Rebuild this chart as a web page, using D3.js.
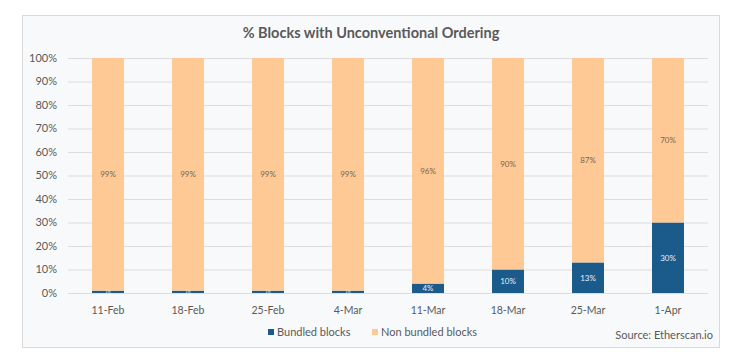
<!DOCTYPE html>
<html><head><meta charset="utf-8">
<script src="https://cdn.jsdelivr.net/npm/d3@7"></script>
<style>body{margin:0;background:#fff;}svg{display:block;font-family:Lato,"Open Sans",sans-serif;}</style>
</head><body><svg id="c" width="750" height="364"></svg>
<script>
const categories = ["11-Feb","18-Feb","25-Feb","4-Mar","11-Mar","18-Mar","25-Mar","1-Apr"];
const bundled = [1,1,1,1,4,10,13,30];
const nonBundled = [99,99,99,99,96,90,87,70];
const yTicks = [0,10,20,30,40,50,60,70,80,90,100];
const seriesNames = ["Bundled blocks","Non bundled blocks"];
const colors = ["#1b5b8c","#fec994"];

const svg = d3.select("#c");
svg.append("rect").attr("x",22.5).attr("y",15.5).attr("width",697).attr("height",332)
  .attr("fill","#f8f9fb").attr("stroke","#d9d9d9");

const x = d3.scaleBand().domain(categories).range([68,708]).paddingInner(0.6).paddingOuter(0.3);
const y = d3.scaleLinear().domain([0,100]).range([293,58]);

svg.append("g").selectAll("line").data(yTicks).join("line")
  .attr("x1",68).attr("x2",708).attr("y1",d=>y(d)+0.5).attr("y2",d=>y(d)+0.5)
  .attr("stroke","#dcdcdc").attr("stroke-width",1);

svg.append("g").selectAll("text").data(yTicks).join("text")
  .attr("x",57).attr("y",d=>y(d)).attr("dy","0.35em").attr("text-anchor","end")
  .attr("font-size",11).attr("fill","#595959").text(d=>d+"%");

const stack = categories.map((c,i)=>({c, b:bundled[i], n:nonBundled[i]}));
const g = svg.append("g");
g.selectAll("rect.b").data(stack).join("rect").attr("class","b")
  .attr("x",d=>x(d.c)).attr("width",x.bandwidth())
  .attr("y",d=>y(d.b)).attr("height",d=>y(0)-y(d.b)).attr("fill",colors[0]);
g.selectAll("rect.n").data(stack).join("rect").attr("class","n")
  .attr("x",d=>x(d.c)).attr("width",x.bandwidth())
  .attr("y",d=>y(d.b+d.n)).attr("height",d=>y(d.b)-y(d.b+d.n)).attr("fill",colors[1]);

g.selectAll("text.b").data(stack).join("text").attr("class","b")
  .attr("x",d=>x(d.c)+x.bandwidth()/2).attr("y",d=>y(d.b/2)).attr("dy","0.35em")
  .attr("text-anchor","middle").attr("font-size",d=>d.b<3?4:8).attr("fill","#e8eef5")
  .text(d=>d.b+"%");
g.selectAll("text.n").data(stack).join("text").attr("class","n")
  .attr("x",d=>x(d.c)+x.bandwidth()/2).attr("y",d=>y(d.b+d.n/2)).attr("dy","0.35em")
  .attr("text-anchor","middle").attr("font-size",8).attr("fill","#7a6550")
  .text(d=>d.n+"%");

svg.append("g").selectAll("text").data(categories).join("text")
  .attr("x",d=>x(d)+x.bandwidth()/2).attr("y",310).attr("dy","0.35em").attr("text-anchor","middle")
  .attr("font-size",10.5).attr("fill","#595959").text(d=>d);

svg.append("text").attr("x",371).attr("y",33).attr("dy","0.35em").attr("text-anchor","middle")
  .attr("font-size",14.5).attr("font-weight","bold").attr("fill","#595959")
  .text("% Blocks with Unconventional Ordering");

const leg = [{n:seriesNames[0],x:268,c:colors[0]},{n:seriesNames[1],x:372,c:colors[1]}];
const lg = svg.append("g").selectAll("g").data(leg).join("g");
lg.append("rect").attr("x",d=>d.x).attr("y",329).attr("width",6).attr("height",6).attr("fill",d=>d.c);
lg.append("text").attr("x",d=>d.x+9).attr("y",332).attr("dy","0.35em")
  .attr("font-size",11).attr("fill","#595959").text(d=>d.n);

svg.append("text").attr("x",713).attr("y",335).attr("dy","0.35em").attr("text-anchor","end")
  .attr("font-size",11).attr("fill","#595959").text("Source: Etherscan.io");
</script></body></html>
